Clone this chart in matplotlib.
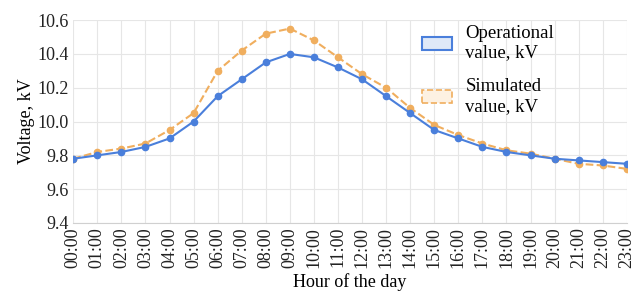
import numpy as np
from matplotlib import pyplot as plt
from matplotlib.patches import Patch

plt.rcParams['font.family'] = ['Liberation Serif', 'DejaVu Serif']

hours = ['%02d:00' % h for h in range(24)]
operational = [9.78, 9.80, 9.82, 9.85, 9.90, 10.00, 10.15, 10.25, 10.35, 10.40, 10.38, 10.32,
               10.25, 10.15, 10.05, 9.95, 9.90, 9.85, 9.82, 9.80, 9.78, 9.77, 9.76, 9.75]
simulated = [9.78, 9.82, 9.84, 9.87, 9.95, 10.05, 10.30, 10.42, 10.52, 10.55, 10.48, 10.38,
             10.28, 10.20, 10.08, 9.98, 9.92, 9.87, 9.83, 9.81, 9.78, 9.75, 9.74, 9.72]
yticks = [9.4, 9.6, 9.8, 10.0, 10.2, 10.4, 10.6]

blue = '#4a7fdb'
orange = '#f0ae5e'

fig = plt.figure(figsize=(6.37, 3.05), dpi=100)
ax = fig.add_axes([0.115, 0.269, 0.869, 0.665])

x = np.arange(len(hours))
ax.plot(x, simulated, color=orange, linestyle='--', linewidth=1.5, marker='o', markersize=4.5, zorder=3)
ax.plot(x, operational, color=blue, linestyle='-', linewidth=1.5, marker='o', markersize=4.5, zorder=4)

ax.set_xlim(0, 23)
ax.set_ylim(9.4, 10.6)
ax.set_xticks(x)
ax.set_xticklabels(hours, rotation=90, fontsize=13)
ax.set_yticks(yticks)
ax.set_yticklabels(['%.1f' % v for v in yticks], fontsize=13)
ax.grid(True, color='#e6e6e6', linewidth=0.8)
ax.set_axisbelow(True)
for side in ['top', 'right', 'left']:
    ax.spines[side].set_visible(False)
ax.spines['bottom'].set_color('#d0d0d0')
ax.tick_params(length=0, pad=3, colors='#222222')

ax.set_xlabel('Hour of the day', fontsize=13, labelpad=4)
ax.set_ylabel('Voltage, kV', fontsize=13, labelpad=2)

handles = [Patch(facecolor='#dfe9f8', edgecolor=blue, linewidth=1.5),
           Patch(facecolor='#fdf1e2', edgecolor=orange, linewidth=1.2, linestyle='--')]
ax.legend(handles, ['Operational\nvalue, kV', 'Simulated\nvalue, kV'], loc='upper left',
          bbox_to_anchor=(0.6, 1.06), frameon=False, fontsize=13.5, handlelength=1.6,
          handleheight=0.7, labelspacing=0.9, handletextpad=0.7)

plt.savefig('out.png', dpi=100)
